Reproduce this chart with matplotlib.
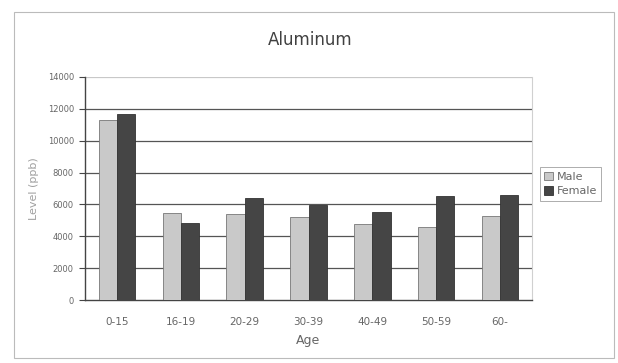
import numpy as np
import matplotlib.pyplot as plt
from matplotlib.patches import Rectangle

# data
age_groups = ['0-15', '16-19', '20-29', '30-39', '40-49', '50-59', '60-']
male = [11300, 5450, 5420, 5180, 4780, 4600, 5250]
female = [11700, 4850, 6380, 5950, 5520, 6500, 6580]
y_ticks = [0, 2000, 4000, 6000, 8000, 10000, 12000, 14000]

text_color = '#666666'
plt.rcParams['font.family'] = ['DejaVu Sans']

fig = plt.figure(figsize=(6.18, 3.63), dpi=100)
fig.patch.set_facecolor('white')

# outer chart border
fig.add_artist(Rectangle((14 / 618, 1 - 358 / 363), 600 / 618, 346 / 363,
                         transform=fig.transFigure, fill=False,
                         edgecolor='#bbbbbb', linewidth=0.8))

ax = fig.add_axes([85 / 618, 1 - 300 / 363, 447 / 618, 223 / 363])

x = np.arange(len(age_groups))
width = 0.286

ax.bar(x - width / 2, male, width, color='#c9c9c9', edgecolor='#777777',
       linewidth=0.6, label='Male', zorder=3)
ax.bar(x + width / 2, female, width, color='#454545', edgecolor='#333333',
       linewidth=0.6, label='Female', zorder=3)

ax.set_xlim(-0.5, len(age_groups) - 0.5)
ax.set_ylim(0, 14000)
ax.set_yticks(y_ticks)
ax.set_yticklabels([str(v) for v in y_ticks])
ax.set_xticks(x)
ax.set_xticklabels(age_groups)

# gridlines: darker inside, the top one faint like the plot-area edge
for v in y_ticks[1:-1]:
    ax.axhline(v, color='#555555', linewidth=0.9, zorder=0)
ax.axhline(y_ticks[-1], color='#c8c8c8', linewidth=0.9, zorder=0)

for side in ['top']:
    ax.spines[side].set_visible(False)
ax.spines['right'].set_color('#d0d0d0')
ax.spines['right'].set_linewidth(0.8)
ax.spines['left'].set_color('#444444')
ax.spines['bottom'].set_color('#444444')
ax.spines['left'].set_linewidth(1.0)
ax.spines['bottom'].set_linewidth(1.0)

ax.tick_params(axis='y', labelsize=6, colors=text_color, length=4,
               direction='out', pad=4)
ax.tick_params(axis='x', labelsize=7.5, colors=text_color, length=0, pad=12)
ax.tick_params(axis='y', color='#444444')

ax.set_ylabel('Level (ppb)', fontsize=8, color='#a0a0a0', labelpad=6)
ax.set_xlabel('Age', fontsize=9, color=text_color, labelpad=5)

fig.text(310 / 618, 1 - 40 / 363, 'Aluminum', fontsize=12, color='#404040',
         ha='center', va='center')

leg = ax.legend(loc='center left', bbox_to_anchor=(1.005, 0.52),
                fontsize=8, frameon=True, fancybox=False,
                handlelength=0.8, handleheight=0.8, handletextpad=0.3,
                borderpad=0.4, labelspacing=0.4)
leg.get_frame().set_edgecolor('#888888')
leg.get_frame().set_linewidth(0.6)
for t in leg.get_texts():
    t.set_color(text_color)

fig.savefig('out.png', dpi=100)
